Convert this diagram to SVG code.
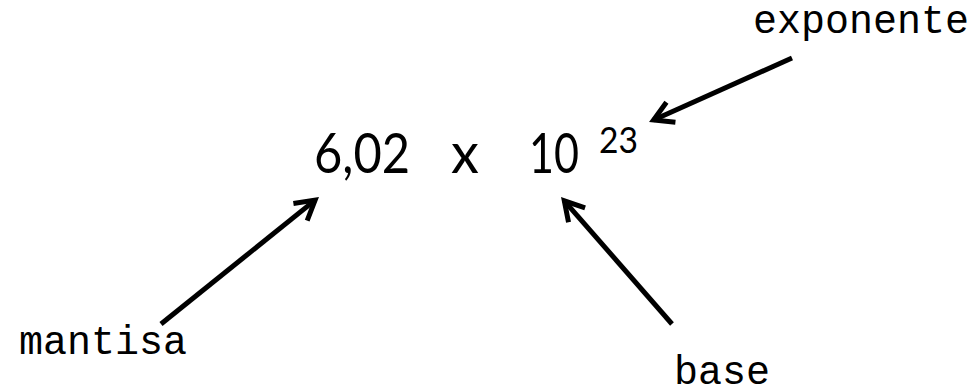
<svg xmlns="http://www.w3.org/2000/svg" width="974" height="392" viewBox="0 0 974 392">
  <style>
    .main { font-family: "Lato", "Open Sans", sans-serif; fill: #000; }
    .mono { font-family: "Liberation Mono", "Courier New", monospace; font-size: 40px; fill: #000; }
    .arrow { stroke: #000; stroke-width: 5; fill: none; stroke-linecap: butt; }
  </style>
  <defs>
    <marker id="head" viewBox="-30 -20 40 40" markerWidth="40" markerHeight="40" refX="0" refY="0" orient="auto" markerUnits="userSpaceOnUse">
      <path d="M-19,-11 L0,0 L-19,11" stroke="#000" stroke-width="5" fill="none" stroke-linejoin="miter" stroke-miterlimit="10"/>
    </marker>
  </defs>
  <rect width="974" height="392" fill="#fff"/>
  <g id="formula">
    <text class="main" x="314" y="172.5" font-size="56" textLength="96" lengthAdjust="spacingAndGlyphs">6,02</text>
    <text class="main" x="451" y="172.5" font-size="56">x</text>
    <text class="main" x="529" y="172.5" font-size="56" textLength="50" lengthAdjust="spacingAndGlyphs">10</text>
    <text class="main" x="599" y="152.5" font-size="36" textLength="39" lengthAdjust="spacingAndGlyphs">23</text>
  </g>
  <g id="label-exponente">
    <text class="mono" x="753" y="33">exponente</text>
  </g>
  <g id="label-mantisa">
    <text class="mono" x="19" y="354">mantisa</text>
  </g>
  <g id="label-base">
    <text class="mono" x="674" y="384">base</text>
  </g>
  <g id="connectors">
    <line class="arrow" x1="161" y1="324" x2="315.1" y2="200.1" marker-end="url(#head)"/>
    <line class="arrow" x1="672" y1="324" x2="564.3" y2="200.8" marker-end="url(#head)"/>
    <line class="arrow" x1="792" y1="58" x2="653.6" y2="120" marker-end="url(#head)"/>
  </g>
</svg>
